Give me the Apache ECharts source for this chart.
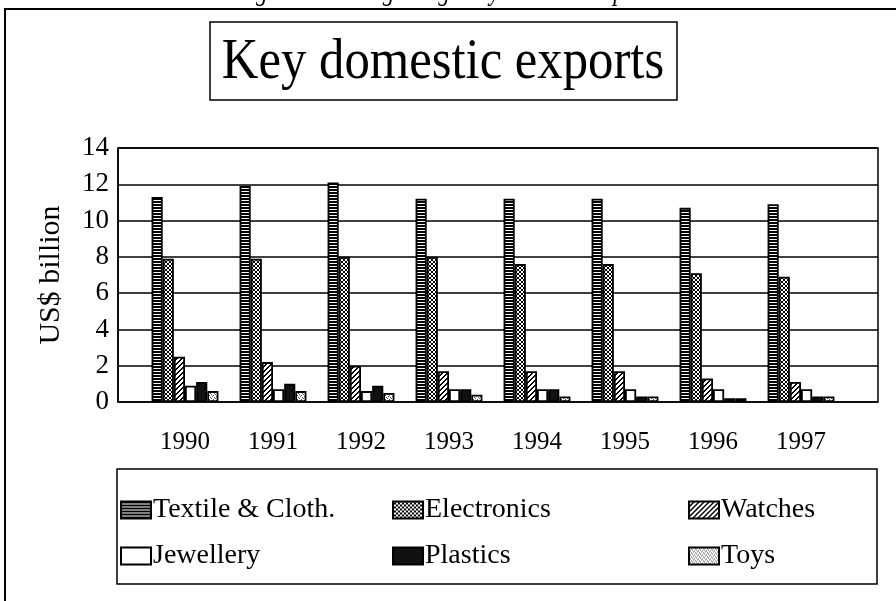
<!DOCTYPE html>
<html>
<head>
<meta charset="utf-8">
<script src="https://cdn.jsdelivr.net/npm/echarts@6/dist/echarts.min.js"></script>
<style>html,body{margin:0;padding:0;background:#fff;}#chart{width:896px;height:601px;}</style>
</head>
<body>
<div id="chart"></div>
<script>
const years = ['1990','1991','1992','1993','1994','1995','1996','1997'];
const textile = [11.3, 11.9, 12.1, 11.2, 11.2, 11.2, 10.7, 10.9];
const electronics = [7.9, 7.9, 8.0, 8.0, 7.6, 7.6, 7.1, 6.9];
const watches = [2.5, 2.2, 2.0, 1.7, 1.7, 1.7, 1.3, 1.1];
const jewellery = [0.9, 0.7, 0.6, 0.7, 0.7, 0.7, 0.7, 0.7];
const plastics = [1.1, 1.0, 0.9, 0.7, 0.7, 0.3, 0.2, 0.3];
const toys = [0.6, 0.6, 0.5, 0.4, 0.3, 0.3, 0.2, 0.3];
const seriesNames = ['Textile & Cloth.', 'Electronics', 'Watches', 'Jewellery', 'Plastics', 'Toys'];
const yTicks = [0, 2, 4, 6, 8, 10, 12, 14];

const FONT = '"Liberation Serif", "DejaVu Serif", serif';

function pat(w, h, draw) {
  const c = document.createElement('canvas');
  c.width = w; c.height = h;
  const g = c.getContext('2d');
  g.fillStyle = '#fff'; g.fillRect(0, 0, w, h);
  g.fillStyle = '#000';
  draw(g);
  return { image: c, repeat: 'repeat' };
}
const fills = [
  pat(4, 3, g => { g.fillRect(0, 0, 4, 2); }),
  pat(4, 4, g => { [[0,0],[1,1],[2,2],[3,3],[3,0],[2,1],[1,2],[0,3]].forEach(p => g.fillRect(p[0], p[1], 1, 1)); }),
  pat(5, 5, g => { for (let i = 0; i < 5; i++) { g.fillRect(i, 4 - i, 1, 1); g.fillRect((i + 1) % 5, 4 - i, 1, 1); } }),
  '#ffffff',
  '#111111',
  pat(4, 4, g => { g.fillStyle = '#555'; [[0,0],[2,1],[1,3],[3,2]].forEach(p => g.fillRect(p[0], p[1], 1, 1)); })
];
const dataArr = [textile, electronics, watches, jewellery, plastics, toys];

const chart = echarts.init(document.getElementById('chart'), null, { renderer: 'canvas' });

const legendPos = [
  [120, 496], [392, 496], [688, 496],
  [120, 542], [392, 542], [688, 542]
];

const option = {
  backgroundColor: '#fff',
  animation: false,
  textStyle: { fontFamily: FONT, color: '#000' },
  grid: [
    { left: 118, top: 148, width: 760, height: 254, show: true, borderColor: '#000', borderWidth: 1.5, backgroundColor: 'transparent' },
    { left: 141, top: 148, width: 704, height: 254 }
  ],
  xAxis: [
    { type: 'category', gridIndex: 0, data: years, show: false },
    { type: 'category', gridIndex: 1, data: years,
      axisLine: { show: false }, axisTick: { show: false },
      axisLabel: { fontFamily: FONT, fontSize: 25, color: '#000', margin: 28 } }
  ],
  yAxis: [
    { type: 'value', gridIndex: 0, min: yTicks[0], max: yTicks[yTicks.length - 1], interval: 2,
      axisLine: { show: true, lineStyle: { color: '#000', width: 1.5 } },
      axisTick: { show: false },
      splitLine: { show: true, lineStyle: { color: '#000', width: 1.5 } },
      axisLabel: { fontFamily: FONT, fontSize: 27, color: '#000', margin: 9 },
      name: 'US$ billion', nameLocation: 'middle', nameRotate: 90, nameGap: 52,
      nameTextStyle: { fontFamily: FONT, fontSize: 30, color: '#000' } },
    { type: 'value', gridIndex: 1, min: 0, max: 14, interval: 2, show: false, splitLine: { show: false } }
  ],
  legend: seriesNames.map((n, i) => ({
    data: [n], left: legendPos[i][0], top: legendPos[i][1], orient: 'horizontal',
    itemWidth: 30, itemHeight: 17, icon: 'rect', padding: 0,
    textStyle: { fontFamily: FONT, fontSize: 28, color: '#000', padding: [0, 0, 0, -3] },
    selectedMode: false
  })),
  series: seriesNames.map((n, i) => ({
    name: n, type: 'bar', xAxisIndex: 1, yAxisIndex: 1,
    barGap: '0%', barCategoryGap: '24%',
    data: dataArr[i],
    itemStyle: { color: fills[i], borderColor: '#000', borderWidth: 1.8 }
  })),
  graphic: [
    { type: 'polyline', shape: { points: [[5, 601], [5, 9], [896, 9]] }, style: { fill: 'none', stroke: '#000', lineWidth: 2 } },
    { type: 'text', x: 448, y: -21, scaleX: 0.82, originX: 0, originY: 0, style: { x: 0, y: 0, text: "Figure 1.6  Hong Kong's key domestic exports", font: 'italic 28px ' + FONT, fill: '#000', textAlign: 'center' } },
    { type: 'rect', shape: { x: 210, y: 22, width: 467, height: 78 }, style: { fill: 'none', stroke: '#000', lineWidth: 1.5 } },
    { type: 'text', x: 443, y: 63, scaleX: 0.89, originX: 0, originY: 0, style: { x: 0, y: 0, text: 'Key domestic exports', font: '57px ' + FONT, fill: '#000', textAlign: 'center', textVerticalAlign: 'middle' } },
    { type: 'rect', shape: { x: 117, y: 469, width: 760, height: 115 }, style: { fill: 'none', stroke: '#000', lineWidth: 1.5 } }
  ]
};
chart.setOption(option);
</script>
</body>
</html>
